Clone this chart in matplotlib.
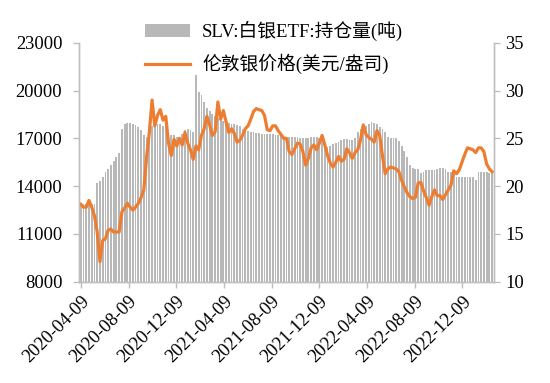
import numpy as np
import pandas as pd
import matplotlib
matplotlib.use('Agg')
import matplotlib.pyplot as plt

plt.rcParams['font.family'] = ['Liberation Serif', 'Noto Sans CJK SC']

# weekly data
start_date = '2020-04-09'
n_weeks = 151

# SLV holdings (tonnes), left axis
holdings = [
    12900, 12900, 12900, 12900, 12900, 12900, 14200, 14300, 14600, 14900,
    15100, 15300, 15600, 15800, 16100, 17600, 17900, 17950, 17950, 17900,
    17850, 17700, 17500, 17200, 17100, 17000, 17800, 17800, 17900, 17900,
    17800, 17800, 17300, 17200, 17200, 17100, 17100, 17300, 17500, 17600,
    17500, 17400, 21000, 19900, 19700, 19300, 18900, 18700, 18500, 18400,
    18300, 18200, 18100, 18000, 17950, 17900, 17900, 17850, 17800, 17600,
    17500, 17450, 17400, 17400, 17350, 17350, 17300, 17300, 17300, 17300,
    17250, 17200, 17200, 17150, 17100, 17100, 17100, 17100, 17100, 17100,
    17050, 17000, 17000, 17050, 17100, 17100, 17100, 17050, 16900, 16500,
    16450, 16500, 16650, 16700, 16750, 16900, 16950, 16950, 16900, 16900,
    17000, 17400, 17600, 17700, 17800, 17900, 18000, 17950, 17900, 17700,
    17600, 17400, 17100, 17000, 17000, 17000, 16800, 16500, 16200, 15800,
    15300, 15150, 15100, 15100, 14800, 14900, 15000, 15000, 15000, 15000,
    15100, 15150, 15150, 15100, 14900, 14900, 14700, 14600, 14600, 14600,
    14600, 14600, 14600, 14550, 14400, 14900, 14900, 14900, 14900, 14850,
    14800,
]

# London silver price (USD/oz), right axis
price = [
    18.1, 17.8, 17.8, 18.5, 17.8, 16.9, 15.2, 12.1, 14.3, 14.5,
    15.4, 15.5, 15.2, 15.2, 15.2, 17.3, 17.7, 18.2, 17.8, 17.5,
    17.8, 18.2, 18.8, 19.6, 23.0, 25.6, 29.0, 26.3, 27.4, 28.0,
    26.9, 27.3, 24.5, 23.2, 24.9, 24.2, 25.0, 24.3, 25.6, 24.5,
    23.8, 22.8, 24.2, 23.8, 25.3, 26.0, 27.3, 26.4, 25.3, 25.7,
    28.8, 27.0, 27.9, 26.7, 25.6, 26.0, 25.5, 24.6, 24.8, 25.3,
    26.0, 26.3, 27.0, 27.8, 28.1, 28.0, 27.9, 27.4, 25.9, 25.8,
    26.3, 26.3, 25.8, 25.4, 25.0, 25.0, 23.6, 23.3, 23.9, 24.5,
    24.4, 23.6, 22.2, 22.9, 24.0, 24.3, 23.8, 24.5, 25.3, 24.3,
    23.2, 22.4, 22.0, 22.5, 23.1, 22.6, 22.8, 23.9, 23.5, 22.9,
    23.5, 23.8, 24.8, 26.4, 25.4, 25.1, 24.9, 24.6, 25.8, 25.3,
    23.2, 21.3, 21.8, 22.0, 21.9, 21.8, 21.5, 20.6, 19.9, 19.3,
    18.9, 18.7, 18.8, 20.3, 20.4, 19.5, 18.8, 18.0, 18.9, 19.6,
    19.0, 19.0, 18.6, 19.1, 19.6, 20.1, 21.6, 21.3, 21.7, 22.5,
    23.3, 24.0, 23.9, 23.8, 23.5, 24.0, 24.0, 23.6, 22.3, 21.8,
    21.5,
]

tick_dates = ['2020-04-09', '2020-08-09', '2020-12-09', '2021-04-09', '2021-08-09',
              '2021-12-09', '2022-04-09', '2022-08-09', '2022-12-09']

bar_label = 'SLV:白银ETF:持仓量(吨)'
line_label = '伦敦银价格(美元/盎司)'

dates = pd.date_range(start_date, periods=n_weeks, freq='7D')

fig = plt.figure(figsize=(5.5, 3.83), dpi=100)
ax = fig.add_axes([0.1436, 0.2645, 0.7544, 0.624])
ax2 = ax.twinx()

bars = ax.bar(dates, holdings, width=4.6, color='#b8b8b8', linewidth=0, label=bar_label)
line, = ax2.plot(dates, price, color='#ED7D31', linewidth=2.3, label=line_label)

ax.set_ylim(8000, 23000)
ax.set_yticks(np.arange(8000, 23001, 3000))
ax2.set_ylim(10, 35)
ax2.set_yticks(np.arange(10, 36, 5))
ax.set_xlim(dates[0] - pd.Timedelta(days=4.5), dates[-1] + pd.Timedelta(days=4.5))

ticks = pd.to_datetime(tick_dates)
ax.set_xticks(ticks)
ax.set_xticklabels(tick_dates, rotation=45, ha='right', va='top', rotation_mode='anchor')

for a in (ax, ax2):
    a.spines['top'].set_visible(False)
    for s in ('left', 'right', 'bottom'):
        a.spines[s].set_color('#bfbfbf')
        a.spines[s].set_linewidth(1.0)
    a.tick_params(colors='#bfbfbf', labelcolor='black', labelsize=13.3, length=4, width=1)

ax.tick_params(axis='y', pad=8)
ax.tick_params(axis='x', pad=4)
ax2.tick_params(axis='y', pad=4)

ax2.legend([bars, line], [bar_label, line_label], loc='upper left',
           bbox_to_anchor=(0.141, 1.122), frameon=False, fontsize=13.5,
           handlelength=2.4, handletextpad=0.65, labelspacing=0.68,
           borderaxespad=0)

fig.savefig('out.png', dpi=100)
